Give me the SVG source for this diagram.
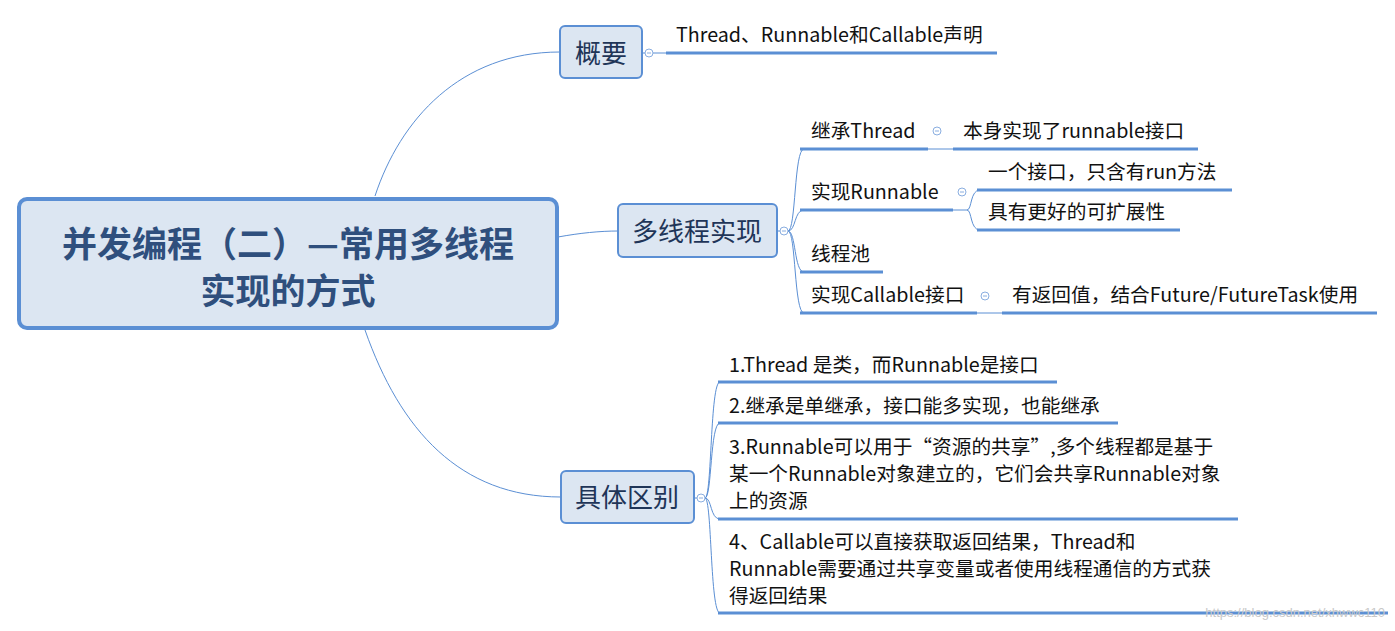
<svg xmlns="http://www.w3.org/2000/svg" width="1395" height="631" viewBox="0 0 1395 631">
<style>
text{font-family:"Noto Sans CJK SC","Noto Sans",sans-serif;fill:#111}
.t{font-size:19.7px}
.n{font-size:26px;fill:#1f3558;text-anchor:middle}
.box{fill:#dce6f2;stroke:#5b8fd4;stroke-width:2}
.ul{stroke:#5b8fd4;stroke-width:3}
.c{fill:none;stroke:#5b8fd4;stroke-width:1}
.col{fill:#fff;stroke:#8aaee0;stroke-width:1}
</style>
<rect width="1395" height="631" fill="#fff"/>
<g id="connectors">
<path class="c" d="M375,196 C400,120 460,52 560,52"/>
<path class="c" d="M558,237 C580,233 600,231 618,231"/>
<path class="c" d="M365,330 C400,430 460,497 561,497"/>
<path class="c" d="M642,53 H666"/>
<path class="c" d="M777,231 H784"/>
<path class="c" d="M694,498 H701"/>
<path class="c" d="M788,231 C796,231 794,149 804,149 M788,231 C796,231 794,210 804,210 M788,231 C796,231 794,272 804,272 M788,231 C796,231 794,313 804,313"/>
<path class="c" d="M928,149 H953 M953,210 H967 M967,210 C972,210 970,190 980,190 M967,210 C972,210 970,230 980,230 M977,313 H1002"/>
<path class="c" d="M705,498 C712,498 710,382 720,382 M705,498 C712,498 710,423 720,423 M705,498 C712,498 710,519 720,519 M705,498 C712,498 710,613 720,613"/>
<g class="ul">
<line x1="666" y1="53" x2="997" y2="53"/>
<line x1="800" y1="149" x2="928" y2="149"/>
<line x1="953" y1="149" x2="1198" y2="149"/>
<line x1="800" y1="210" x2="953" y2="210"/>
<line x1="977" y1="190" x2="1232" y2="190"/>
<line x1="977" y1="230" x2="1180" y2="230"/>
<line x1="800" y1="272" x2="883" y2="272"/>
<line x1="800" y1="313" x2="977" y2="313"/>
<line x1="1002" y1="313" x2="1377" y2="313"/>
<line x1="718" y1="382" x2="1057" y2="382"/>
<line x1="718" y1="423" x2="1118" y2="423"/>
<line x1="718" y1="519" x2="1238" y2="519"/>
<line x1="718" y1="613" x2="1388" y2="613"/>
</g>
<g>
<circle class="col" cx="649" cy="53" r="4"/><line x1="647" y1="53" x2="651" y2="53" stroke="#8aaee0"/>
<circle class="col" cx="784" cy="231" r="4"/><line x1="782" y1="231" x2="786" y2="231" stroke="#8aaee0"/>
<circle class="col" cx="701" cy="498" r="4"/><line x1="699" y1="498" x2="703" y2="498" stroke="#8aaee0"/>
<circle class="col" cx="937" cy="131" r="4"/><line x1="935" y1="131" x2="939" y2="131" stroke="#8aaee0"/>
<circle class="col" cx="962" cy="192" r="4"/><line x1="960" y1="192" x2="964" y2="192" stroke="#8aaee0"/>
<circle class="col" cx="985" cy="296" r="4"/><line x1="983" y1="296" x2="987" y2="296" stroke="#8aaee0"/>
</g>
</g>
<g id="root">
<rect x="19" y="199" width="538" height="129" rx="8" fill="#dce6f2" stroke="#5b8fd4" stroke-width="4"/>
<text x="288" y="257" style="font-size:35px;font-weight:bold;fill:#2f4f7d;text-anchor:middle">并发编程（二）—常用多线程</text>
<text x="288" y="304" style="font-size:35px;font-weight:bold;fill:#2f4f7d;text-anchor:middle">实现的方式</text>
</g>
<g id="gaiyao"><rect class="box" x="560" y="26" width="82" height="52" rx="5"/><text class="n" x="601" y="63">概要</text></g>
<g id="duoxiancheng"><rect class="box" x="618" y="204" width="159" height="53" rx="5"/><text class="n" x="697" y="241">多线程实现</text></g>
<g id="qubie"><rect class="box" x="561" y="471" width="133" height="52" rx="5"/><text class="n" x="627" y="507">具体区别</text></g>
<g id="leaves">
<text class="t" x="676" y="42">Thread、Runnable和Callable声明</text>
<text class="t" x="811" y="138">继承Thread</text>
<text class="t" x="963" y="138">本身实现了runnable接口</text>
<text class="t" x="988" y="179">一个接口，只含有run方法</text>
<text class="t" x="811" y="199">实现Runnable</text>
<text class="t" x="988" y="219">具有更好的可扩展性</text>
<text class="t" x="811" y="261">线程池</text>
<text class="t" x="811" y="302">实现Callable接口</text>
<text class="t" x="1012" y="302">有返回值，结合Future/FutureTask使用</text>
<text class="t" x="729" y="372">1.Thread 是类，而Runnable是接口</text>
<text class="t" x="729" y="413">2.继承是单继承，接口能多实现，也能继承</text>
<text class="t" x="729" y="454">3.Runnable可以用于“资源的共享”,多个线程都是基于</text>
<text class="t" x="729" y="481">某一个Runnable对象建立的，它们会共享Runnable对象</text>
<text class="t" x="729" y="508">上的资源</text>
<text class="t" x="729" y="549">4、Callable可以直接获取返回结果，Thread和</text>
<text class="t" x="729" y="576">Runnable需要通过共享变量或者使用线程通信的方式获</text>
<text class="t" x="729" y="603">得返回结果</text>
</g>
<text x="1385" y="617" style="font-size:13px;fill:#c8c8c8;text-anchor:end;font-family:'Liberation Sans',sans-serif">https://blog.csdn.net/xhwwc110</text>
</svg>
